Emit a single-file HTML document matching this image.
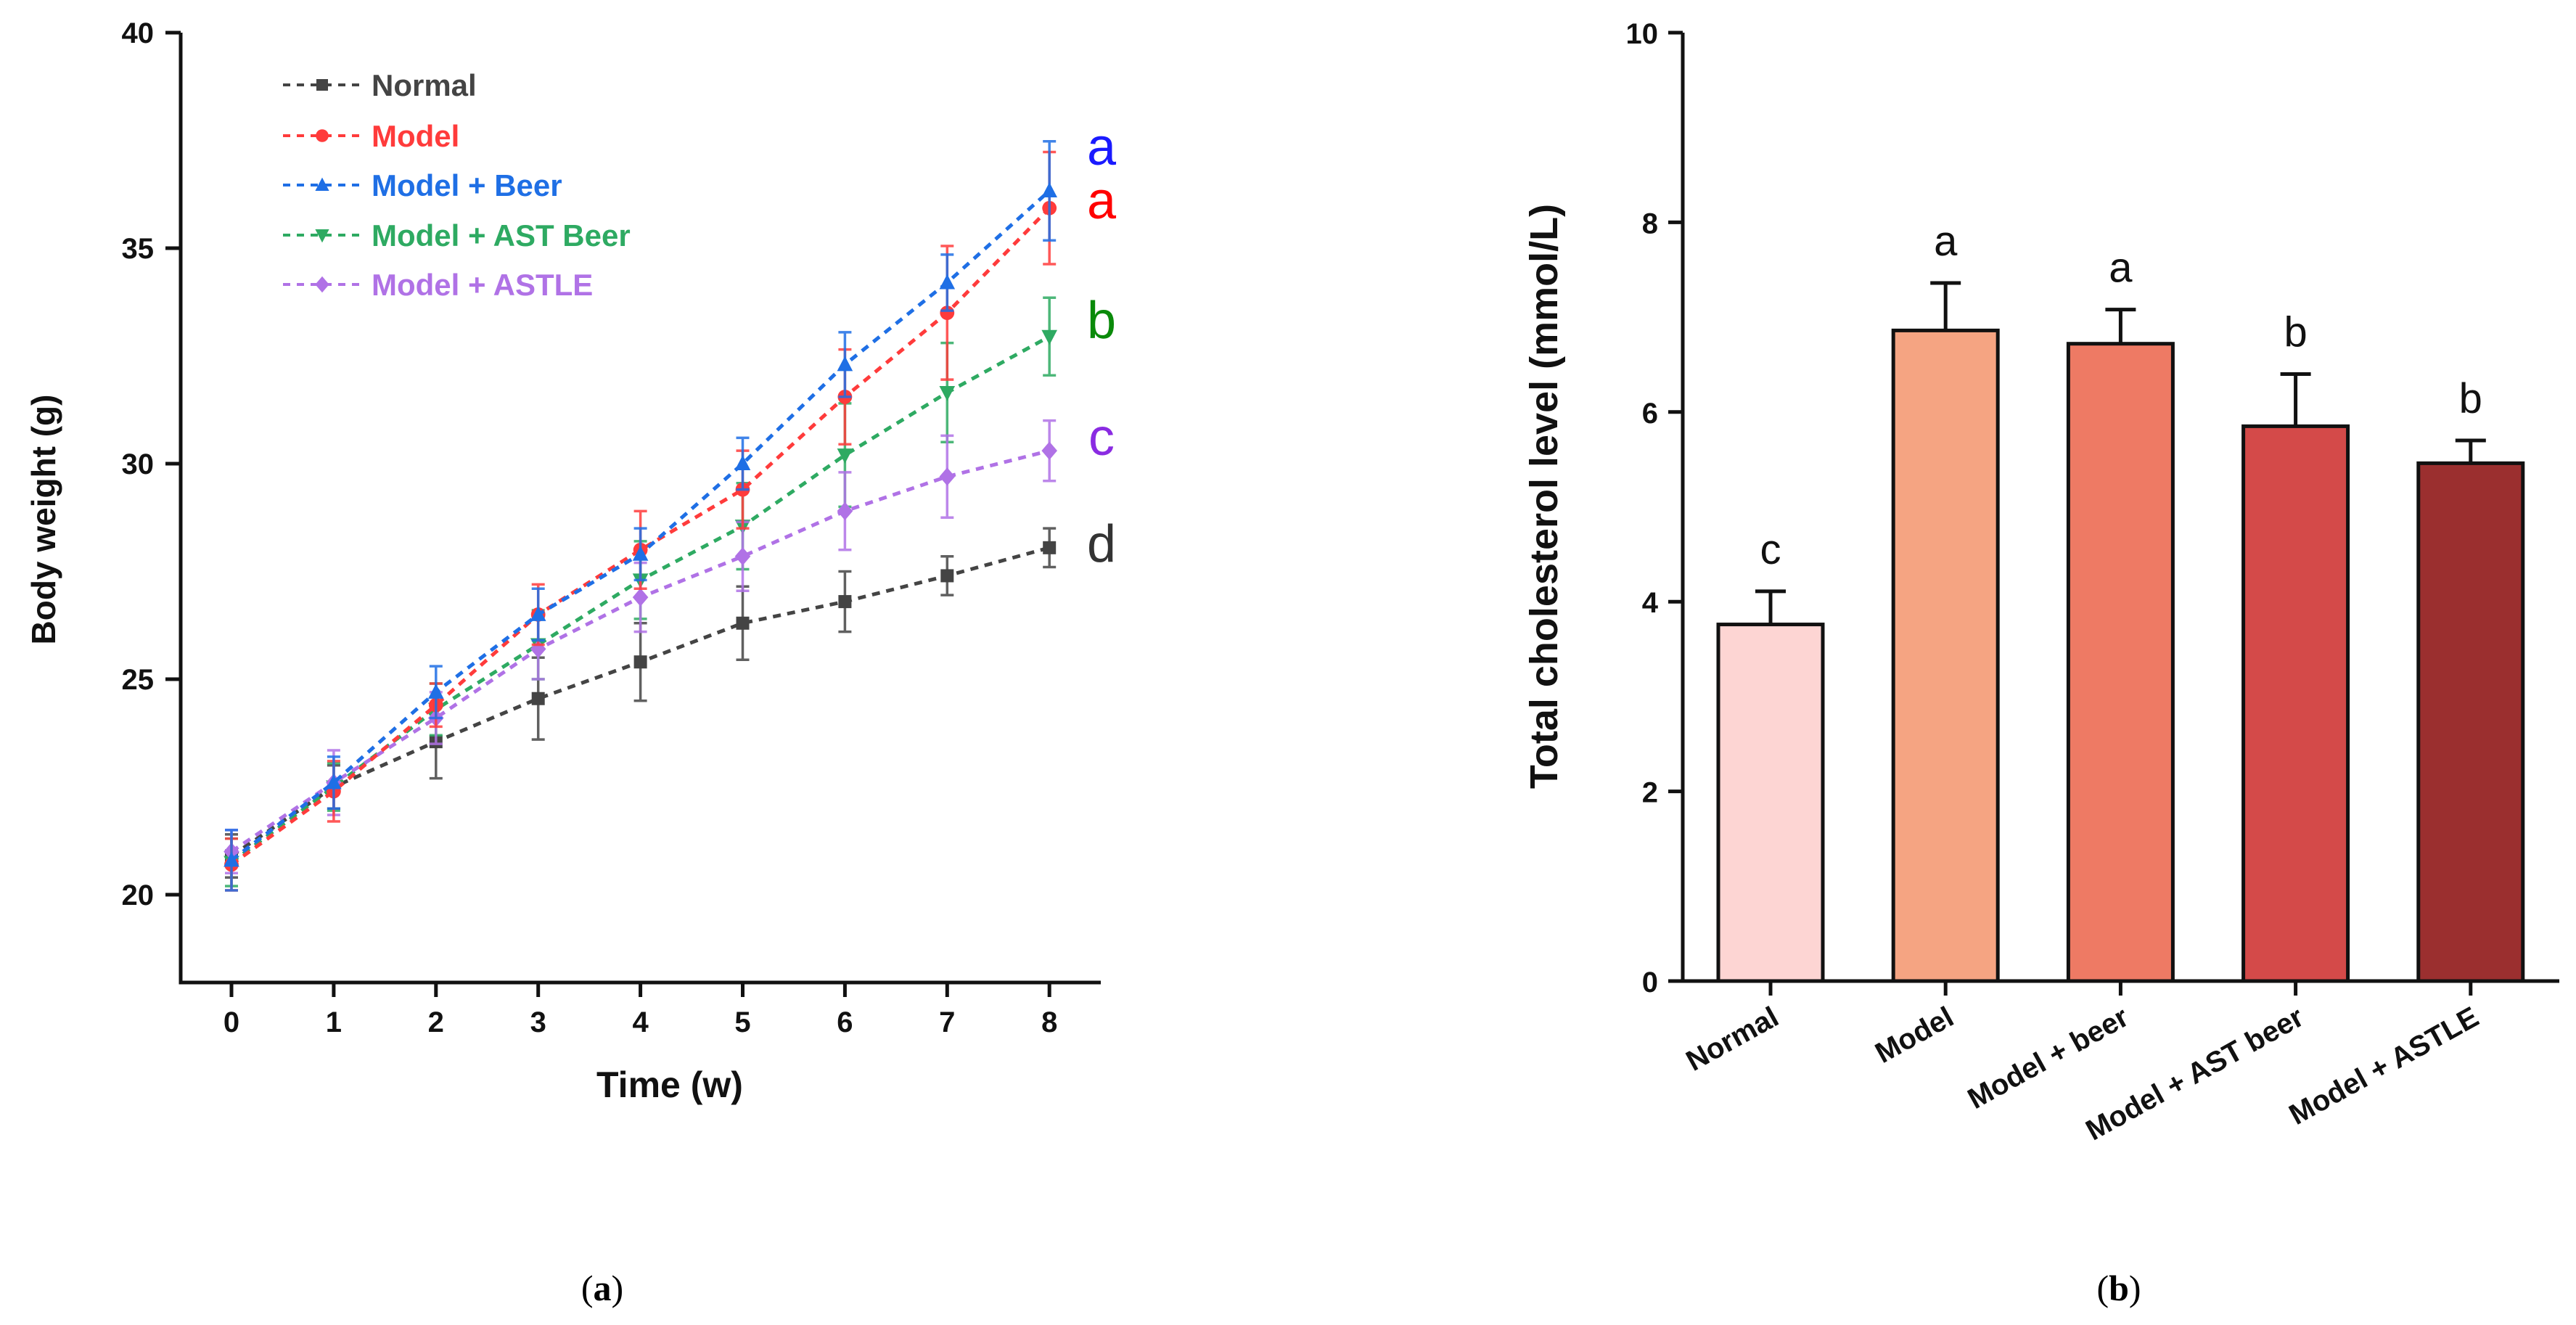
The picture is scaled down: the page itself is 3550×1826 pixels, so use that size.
<!DOCTYPE html>
<html><head><meta charset="utf-8">
<style>
html,body{margin:0;padding:0;background:#fff;}
svg{display:block;font-family:"Liberation Sans",sans-serif;}
</style></head>
<body>
<svg id="fig" width="3550" height="1826" viewBox="0 0 3550 1826" xmlns="http://www.w3.org/2000/svg">
<g id="left"></g>
<g id="right"></g>
<text x="830" y="1792" font-family="Liberation Serif,serif" font-size="50" text-anchor="middle">(<tspan font-weight="bold">a</tspan>)</text>
<text x="2920" y="1792" font-family="Liberation Serif,serif" font-size="50" text-anchor="middle">(<tspan font-weight="bold">b</tspan>)</text>
</svg>
<script>
const NS="http://www.w3.org/2000/svg";
// ---- Left chart data ----
const weeks=[0,1,2,3,4,5,6,7,8];
const seriesNames=["Normal","Model","Model + Beer","Model + AST Beer","Model + ASTLE"];
const normalVals=[20.9,22.5,23.55,24.55,25.4,26.3,26.8,27.4,28.05];
const modelVals=[20.7,22.4,24.4,26.5,28.0,29.4,31.55,33.5,35.93];
const beerVals=[20.8,22.6,24.7,26.5,27.9,30.0,32.3,34.2,36.33];
const astBeerVals=[20.75,22.5,24.3,25.8,27.3,28.55,30.2,31.65,32.95];
const astleVals=[21.0,22.6,24.1,25.7,26.9,27.85,28.9,29.7,30.3];
const normalErr=[0.5,0.5,0.85,0.95,0.9,0.85,0.7,0.45,0.45];
const modelErr=[0.6,0.7,0.5,0.7,0.9,0.9,1.1,1.55,1.3];
const beerErr=[0.7,0.6,0.6,0.6,0.6,0.6,0.75,0.65,1.15];
const astBeerErr=[0.55,0.55,0.6,0.8,0.9,1.0,1.2,1.15,0.9];
const astleErr=[0.5,0.75,0.6,0.7,0.8,0.8,0.9,0.95,0.7];
const yTicksL=[20,25,30,35,40];
const sigLetters=["d","a","a","b","c"];
// ---- Right chart data ----
const groups=["Normal","Model","Model + beer","Model + AST beer","Model + ASTLE"];
const cholVals=[3.76,6.86,6.72,5.85,5.46];
const cholErr=[0.35,0.5,0.36,0.55,0.24];
const cholLetters=["c","a","a","b","b"];
const yTicksR=[0,2,4,6,8,10];

function el(tag,attrs,parent,text){const e=document.createElementNS(NS,tag);for(const k in attrs)e.setAttribute(k,attrs[k]);if(text!==undefined)e.textContent=text;parent.appendChild(e);return e;}

// ===== Left chart =====
const L=document.getElementById('left');
const lx=v=>319+v*140.9;
const ly=v=>1233-(v-20)*59.4;
let axL=el('path',{d:`M249 ${ly(40)} V1354 H1517`,stroke:'#111',fill:'none','stroke-width':5},L);


yTicksL.forEach(t=>{
  let tk=el('line',{x1:228,x2:249,y1:ly(t),y2:ly(t),stroke:'#111','stroke-width':5},L);
  
  
  let tl=el('text',{x:212,y:ly(t)+14,'font-size':40,'font-weight':'bold','text-anchor':'end',fill:'#111'},L,String(t));
  
  
});
weeks.forEach(w=>{
  let tk=el('line',{x1:lx(w),x2:lx(w),y1:1354,y2:1374,stroke:'#111','stroke-width':5},L);
  
  
  let tl=el('text',{x:lx(w),y:1422,'font-size':40,'font-weight':'bold','text-anchor':'middle',fill:'#111'},L,String(w));
  
  
});
let xt=el('text',{x:923,y:1512,'font-size':50,'font-weight':'bold','text-anchor':'middle',fill:'#111'},L,'Time (w)');


let yt=el('text',{x:0,y:0,transform:'translate(76,716) rotate(-90)','font-size':46,'font-weight':'bold','text-anchor':'middle',fill:'#111'},L,'Body weight (g)');



const sVals=[normalVals,modelVals,beerVals,astBeerVals,astleVals];
const sErr=[normalErr,modelErr,beerErr,astBeerErr,astleErr];
const sCol=['#444444','#ff3b3b','#1f6fe5','#2eaa62','#b072e6'];
const letterCol=['#333333','#ff0000','#1a1aff','#0a8a0a','#8a2be2'];
const letterOff=[19,14,-36,2,6];
const shapes=['square','circle','triangle','tri-down','diamond'];
function marker(shape,x,y,c,parent,s){
  let m;
  if(shape==='square')m=el('rect',{x:x-s,y:y-s,width:2*s,height:2*s,fill:c},parent);
  else if(shape==='circle')m=el('circle',{cx:x,cy:y,r:s*1.1,fill:c},parent);
  else if(shape==='triangle')m=el('polygon',{points:`${x},${y-s*1.3} ${x-s*1.2},${y+s} ${x+s*1.2},${y+s}`,fill:c},parent);
  else if(shape==='tri-down')m=el('polygon',{points:`${x},${y+s*1.3} ${x-s*1.2},${y-s} ${x+s*1.2},${y-s}`,fill:c},parent);
  else m=el('polygon',{points:`${x},${y-s*1.4} ${x+s*1.2},${y} ${x},${y+s*1.4} ${x-s*1.2},${y}`,fill:c},parent);
  return m;
}
[0,3,4,1,2].forEach(i=>{
  const g=el('g',{},L);
  
  
  const vals=sVals[i],err=sErr[i],c=sCol[i];
  weeks.forEach((w,j)=>{
    let eb=el('path',{d:`M${lx(w)} ${ly(vals[j]+err[j])} V${ly(vals[j]-err[j])} M${lx(w)-9} ${ly(vals[j]+err[j])} h18 M${lx(w)-9} ${ly(vals[j]-err[j])} h18`,stroke:c,'stroke-width':3.5,fill:'none',opacity:0.85},g);
    
    
  });
  let line=el('polyline',{points:weeks.map((w,j)=>lx(w)+','+ly(vals[j])).join(' '),stroke:c,'stroke-width':5,fill:'none','stroke-dasharray':'11 9'},g);
  
  
  weeks.forEach((w,j)=>{
    let m=marker(shapes[i],lx(w),ly(vals[j]),c,g,9);
    
    
  });
  let lt=el('text',{x:1518,y:ly(vals[8])+letterOff[i],'font-size':72,'text-anchor':'middle',fill:letterCol[i]},g,sigLetters[i]);
  
  
});
const legY=[117,187,255,324,392];
seriesNames.forEach((n,i)=>{
  const g=el('g',{},L);
  
  
  el('line',{x1:390,x2:498,y1:legY[i],y2:legY[i],stroke:sCol[i],'stroke-width':4,'stroke-dasharray':'10 9'},g);
  marker(shapes[i],444,legY[i],sCol[i],g,8);
  el('text',{x:512,y:legY[i]+15,'font-size':42,'font-weight':'bold',fill:sCol[i]},g,n);
});

// ===== Right chart =====
const R=document.getElementById('right');
const ry=v=>1352-v*130.7;
const rx=i=>2440+i*241.2;
const barCol=['#fdd5d3','#f5a482','#ee7a64','#d44a49','#9b2f2f'];
groups.forEach((gname,i)=>{
  const g=el('g',{},R);
  
  
  el('path',{d:`M${rx(i)} ${ry(cholVals[i])} V${ry(cholVals[i]+cholErr[i])} M${rx(i)-21} ${ry(cholVals[i]+cholErr[i])} h42`,stroke:'#111','stroke-width':5,fill:'none'},g);
  el('rect',{x:rx(i)-72,y:ry(cholVals[i]),width:144,height:ry(0)-ry(cholVals[i]),fill:barCol[i],stroke:'#111','stroke-width':5},g);
  let lt=el('text',{x:rx(i),y:ry(cholVals[i]+cholErr[i])-38,'font-size':58,'text-anchor':'middle',fill:'#111'},R,cholLetters[i]);
  
  
  let tk=el('line',{x1:rx(i),x2:rx(i),y1:1352,y2:1372,stroke:'#111','stroke-width':5},R);
  
  
  let tl=el('text',{x:0,y:0,transform:`translate(${rx(i)+14},1410) rotate(-29)`,'font-size':40,'font-weight':'bold','text-anchor':'end',fill:'#111'},R,gname);
  
  
});
let axR=el('path',{d:`M2319 ${ry(10)} V1352 H3527`,stroke:'#111',fill:'none','stroke-width':5},R);


yTicksR.forEach(t=>{
  let tk=el('line',{x1:2299,x2:2319,y1:ry(t),y2:ry(t),stroke:'#111','stroke-width':5},R);
  
  
  let tl=el('text',{x:2285,y:ry(t)+15,'font-size':40,'font-weight':'bold','text-anchor':'end',fill:'#111'},R,String(t));
  
  
});
let ytr=el('text',{x:0,y:0,transform:'translate(2146,684) rotate(-90)','font-size':54,'font-weight':'bold','text-anchor':'middle',fill:'#111'},R,'Total cholesterol level (mmol/L)');


</script>
</body></html>
